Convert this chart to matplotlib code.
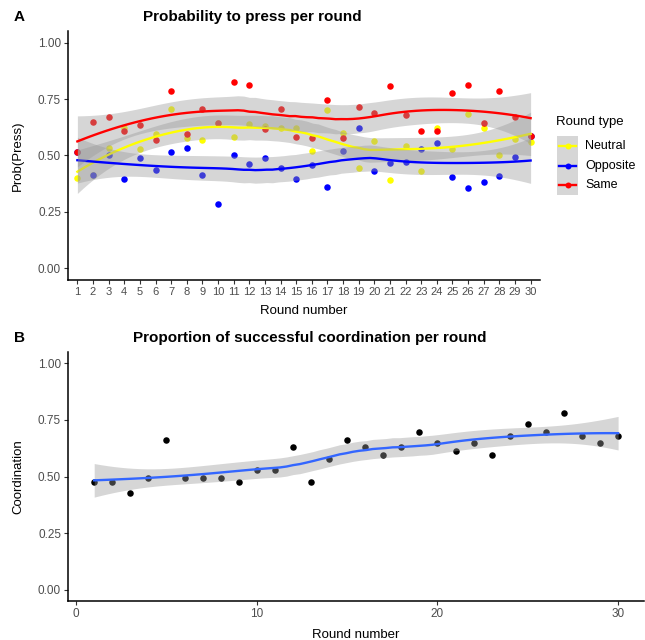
import math
import numpy as np
import matplotlib
matplotlib.use("Agg")
import matplotlib.pyplot as plt
from matplotlib.patches import Rectangle
from matplotlib.lines import Line2D

plt.rcParams['font.family'] = ['Liberation Sans', 'DejaVu Sans']

# ---- data ----
rounds = list(range(1, 31))
neutral = [0.402, 0.414, 0.535, 0.623, 0.530, 0.594, 0.708, 0.576, 0.569, 0.643,
           0.582, 0.638, 0.631, 0.623, 0.623, 0.521, 0.702, 0.598, 0.443, 0.564,
           0.391, 0.542, 0.431, 0.623, 0.529, 0.684, 0.620, 0.502, 0.573, 0.558]
opposite = [0.515, 0.414, 0.502, 0.397, 0.490, 0.434, 0.515, 0.533, 0.412, 0.285,
            0.502, 0.462, 0.490, 0.445, 0.397, 0.458, 0.362, 0.518, 0.622, 0.431,
            0.465, 0.473, 0.529, 0.555, 0.403, 0.355, 0.383, 0.409, 0.492, 0.588]
same = [0.515, 0.648, 0.669, 0.607, 0.637, 0.570, 0.786, 0.597, 0.708, 0.643,
        0.827, 0.812, 0.617, 0.708, 0.580, 0.578, 0.746, 0.578, 0.716, 0.688,
        0.808, 0.679, 0.609, 0.609, 0.778, 0.814, 0.646, 0.787, 0.669, 0.588]
coordination = [0.478, 0.478, 0.428, 0.496, 0.663, 0.496, 0.496, 0.496, 0.478, 0.529,
                0.529, 0.629, 0.478, 0.579, 0.663, 0.629, 0.596, 0.629, 0.699, 0.647,
                0.613, 0.647, 0.596, 0.679, 0.731, 0.699, 0.782, 0.679, 0.647, 0.679]

type_names = ['Neutral', 'Opposite', 'Same']
type_colors = ['#FFFF00', '#0000FF', '#FF0000']
ribbon_grey = '#999999'


def t_quantile(p, df):
    # bisection on the t cdf (numeric integration)
    c = math.exp(math.lgamma((df + 1) / 2) - math.lgamma(df / 2)) / math.sqrt(df * math.pi)

    def cdf(t):
        xs = np.linspace(0, t, 2000)
        pdf = c * (1 + xs ** 2 / df) ** (-(df + 1) / 2)
        return 0.5 + np.trapezoid(pdf, xs)
    lo, hi = 0.0, 20.0
    for _ in range(60):
        mid = (lo + hi) / 2
        if cdf(mid) < p:
            lo = mid
        else:
            hi = mid
    return (lo + hi) / 2


def loess_smooth(x, y, n_out=80, span=0.75):
    x = np.asarray(x, float)
    y = np.asarray(y, float)
    n = len(x)
    q = int(np.floor(n * span))

    def weights_row(x0):
        d = np.abs(x - x0)
        dmax = np.sort(d)[q - 1]
        u = np.clip(d / dmax, 0, 1)
        w = (1 - u ** 3) ** 3
        X = np.column_stack([np.ones(n), x - x0, (x - x0) ** 2])
        XtW = X.T * w
        return np.linalg.solve(XtW @ X, XtW)[0]

    xnew = np.linspace(x.min(), x.max(), n_out)
    L = np.array([weights_row(v) for v in x])
    Lnew = np.array([weights_row(v) for v in xnew])
    fit = Lnew @ y
    res = y - L @ y
    IL = np.eye(n) - L
    M = IL.T @ IL
    d1 = np.trace(M)
    d2 = np.trace(M @ M)
    s = np.sqrt(res @ res / d1)
    se = s * np.sqrt((Lnew ** 2).sum(axis=1))
    t = t_quantile(0.975, d1 ** 2 / d2)
    return xnew, fit, fit - t * se, fit + t * se


W, H = 645, 640
fig = plt.figure(figsize=(W / 100, H / 100), dpi=100)


def px_axes(l, t, r, b):
    return fig.add_axes([l / W, 1 - b / H, (r - l) / W, (b - t) / H])


def style_axes(ax):
    for side in ['top', 'right']:
        ax.spines[side].set_visible(False)
    for side in ['left', 'bottom']:
        ax.spines[side].set_linewidth(1.1)
        ax.spines[side].set_color('black')
    ax.tick_params(length=3, width=0.8, color='#333333', labelcolor='#4D4D4D', labelsize=8.5, pad=2)
    ax.set_yticks([0, 0.25, 0.5, 0.75, 1.0])
    ax.set_yticklabels(['0.00', '0.25', '0.50', '0.75', '1.00'])
    ax.set_ylim(-0.05, 1.05)


# ---- panel A ----
axA = px_axes(68, 31.4, 540, 279.6)
style_axes(axA)
series = [neutral, opposite, same]
for vals, col in zip(series, type_colors):
    axA.scatter(rounds, vals, s=22, color=col, linewidths=0, zorder=2)
for vals, col in zip(series, type_colors):
    xs, fit, lo, hi = loess_smooth(rounds, vals)
    axA.fill_between(xs, lo, hi, color=ribbon_grey, alpha=0.4, linewidth=0, zorder=3)
    axA.plot(xs, fit, color=col, lw=1.7, zorder=3)
axA.set_xlim(0.4, 30.6)
axA.set_xticks(rounds)
axA.set_xticklabels([str(r) for r in rounds])
axA.tick_params(axis='x', labelsize=8)
axA.set_xlabel('Round number', fontsize=9.5, labelpad=6)
axA.set_ylabel('Prob(Press)', fontsize=9.5, labelpad=10)

fig.text(14 / W, 1 - 17 / H, 'A', fontsize=11, fontweight='bold', va='center', ha='left')
fig.text(143 / W, 1 - 17 / H, 'Probability to press per round', fontsize=11,
         fontweight='bold', va='center', ha='left')

# legend, drawn by hand like the ggplot key column
fig.text(556 / W, 1 - 122 / H, 'Round type', fontsize=9.5, va='center', ha='left')
fig.add_artist(Rectangle((557 / W, 1 - 195 / H), 21 / W, 59 / H, transform=fig.transFigure,
                         facecolor='#D6D6D6', edgecolor='none'))
for i, (name, col) in enumerate(zip(type_names, type_colors)):
    yk = 1 - (146 + i * 19.5) / H
    fig.add_artist(Line2D([559 / W, 576 / W], [yk, yk], transform=fig.transFigure,
                          color=col, lw=1.7))
    fig.add_artist(Line2D([567.5 / W], [yk], transform=fig.transFigure, marker='o',
                          markersize=4.3, color=col, markeredgewidth=0))
    fig.text(585 / W, yk, name, fontsize=9, va='center', ha='left')

# ---- panel B ----
axB = px_axes(68, 352, 644.3, 601.3)
style_axes(axB)
axB.scatter(rounds, coordination, s=22, color='black', linewidths=0, zorder=2)
xs, fit, lo, hi = loess_smooth(rounds, coordination)
axB.fill_between(xs, lo, hi, color=ribbon_grey, alpha=0.4, linewidth=0, zorder=3)
axB.plot(xs, fit, color='#3366FF', lw=1.7, zorder=3)
axB.set_xlim(-0.45, 31.45)
axB.set_xticks([0, 10, 20, 30])
axB.set_xlabel('Round number', fontsize=9.5, labelpad=6)
axB.set_ylabel('Coordination', fontsize=9.5, labelpad=10)

fig.text(14 / W, 1 - 338 / H, 'B', fontsize=11, fontweight='bold', va='center', ha='left')
fig.text(133 / W, 1 - 338 / H, 'Proportion of successful coordination per round', fontsize=11,
         fontweight='bold', va='center', ha='left')

fig.savefig('out.png', dpi=100)
